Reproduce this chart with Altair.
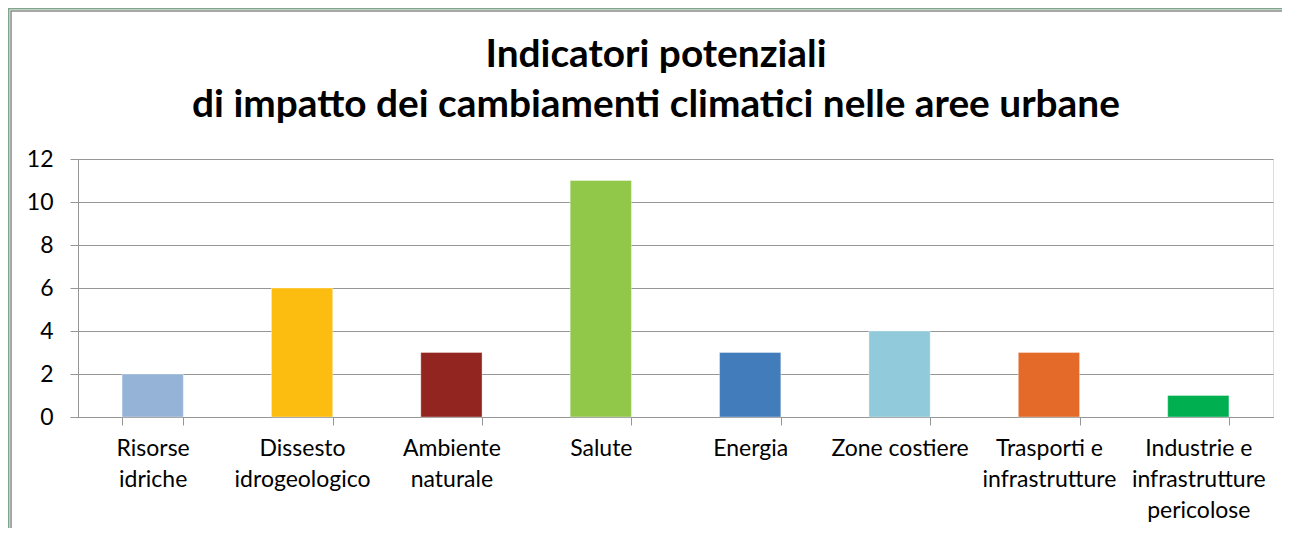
import altair as alt
import pandas as pd

categories = [
    "Risorse\nidriche",
    "Dissesto\nidrogeologico",
    "Ambiente\nnaturale",
    "Salute",
    "Energia",
    "Zone costiere",
    "Trasporti e\ninfrastrutture",
    "Industrie e\ninfrastrutture\npericolose",
]
values = [2, 6, 3, 11, 3, 4, 3, 1]
colors = ["#95b3d7", "#fdbd10", "#922520", "#92c84a", "#437cba", "#90cadb", "#e36a28", "#00b050"]
y_ticks = [0, 2, 4, 6, 8, 10, 12]
title_lines = ["Indicatori potenziali", "di impatto dei cambiamenti climatici nelle aree urbane"]

df = pd.DataFrame({"cat": categories, "val": values, "color": colors})

W, H = 1195, 258
LEFT, TOP = 70, 151  # page origin of plot = (78, 159)
FONT = "Lato"
GRAY = "#969696"

bars = alt.Chart(df).mark_bar(stroke="#ffffff", strokeOpacity=0.35, strokeWidth=1).encode(
    x=alt.X(
        "cat:N",
        sort=categories,
        scale=alt.Scale(paddingInner=0.59, paddingOuter=0.295),
        axis=alt.Axis(
            title=None,
            labelAngle=0,
            labelExpr="split(datum.label, '\\n')",
            tickBand="extent",
            tickSize=8,
            labelPadding=12,
            labelLineHeight=31,
            labelFontSize=23,
            labelFont=FONT,
            labelBaseline="top",
            grid=False,
            domainColor=GRAY,
            tickColor=GRAY,
        ),
    ),
    y=alt.Y(
        "val:Q",
        scale=alt.Scale(domain=[0, 12], nice=False),
        axis=alt.Axis(
            title=None,
            values=y_ticks,
            tickSize=8,
            labelPadding=17,
            labelFontSize=23,
            labelFont=FONT,
            grid=True,
            gridColor=GRAY,
            gridOpacity=1,
            gridWidth=1,
            domainColor=GRAY,
            tickColor=GRAY,
        ),
    ),
    color=alt.Color("color:N", scale=None, legend=None),
    tooltip=alt.value(None),
)

title_df = pd.DataFrame({"t": ["\n".join(title_lines)]})
title = alt.Chart(title_df).mark_text(
    font=FONT,
    fontWeight="bold",
    fontSize=38.8,
    lineBreak="\n",
    lineHeight=50,
    align="center",
    baseline="alphabetic",
    color="#000000",
).encode(text="t:N", x=alt.value(656 - 78), y=alt.value(67 - 159))

frame_data = pd.DataFrame({"k": [0]})
frame_outer = alt.Chart(frame_data).mark_rect(
    fillOpacity=0, stroke="#7fa58c", strokeWidth=2
).encode(x=alt.value(-69.5), x2=alt.value(1260), y=alt.value(-150.5), y2=alt.value(500))
frame_inner = alt.Chart(frame_data).mark_rect(
    fillOpacity=0, stroke="#8a8a8a", strokeWidth=1.5
).encode(x=alt.value(-67), x2=alt.value(1257), y=alt.value(-148), y2=alt.value(497))

chart = (
    alt.layer(bars, title, frame_outer, frame_inner)
    .properties(
        width=W,
        height=H,
        autosize=alt.AutoSizeParams(type="none"),
        padding={"left": LEFT, "top": TOP, "right": 9, "bottom": 111},
    )
    .configure_view(fill="#f2f2f2", stroke=None)
    .configure_axis(
        labelColor="#262626",
        labelFont=FONT,
        domainWidth=1,
    )
    .configure_text(font=FONT)
    .configure(background="#ffffff")
)

chart.save("out.html", embed_options={"renderer": "svg", "actions": False})
